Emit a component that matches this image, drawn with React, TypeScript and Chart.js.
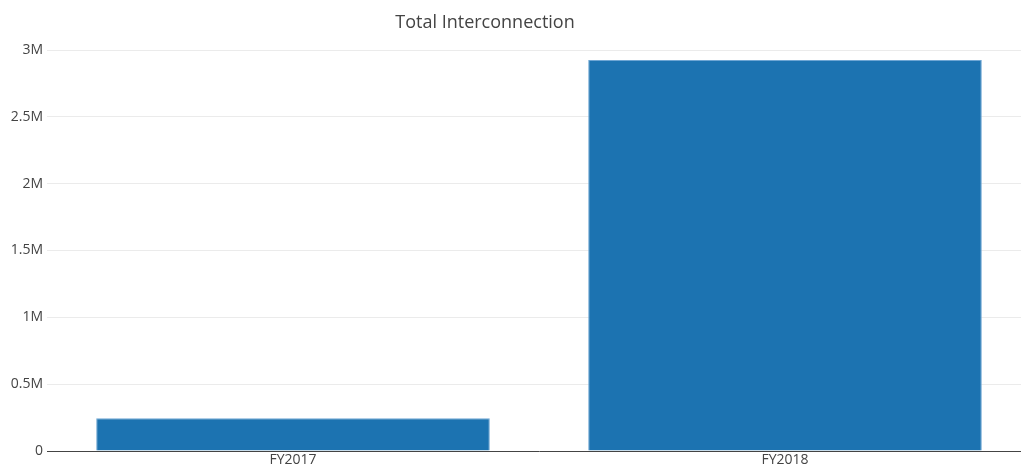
import React, { useEffect, useRef } from "react";
import { Chart, registerables } from "chart.js";

Chart.register(...registerables);

const categories = ["FY2017", "FY2018"];
const values = [245000, 2926000];
const yTicks = [0, 500000, 1000000, 1500000, 2000000, 2500000, 3000000];
const yTickLabels = ["0", "0.5M", "1M", "1.5M", "2M", "2.5M", "3M"];
const titleText = "Total Interconnection";

const FONT = "'Open Sans', sans-serif";

const titlePlugin = {
  id: "customTitle",
  afterDraw(chart: any) {
    const ctx = chart.ctx;
    ctx.save();
    ctx.font = `18px ${FONT}`;
    ctx.fillStyle = "#444";
    ctx.textAlign = "center";
    ctx.textBaseline = "middle";
    ctx.fillText(titleText, 485, 23);
    ctx.restore();
  },
};

export default function App() {
  const ref = useRef<HTMLCanvasElement | null>(null);
  useEffect(() => {
    document.body.style.margin = "0";
    document.body.style.overflow = "hidden";
    const chart = new Chart(ref.current as HTMLCanvasElement, {
      type: "bar",
      data: {
        labels: categories,
        datasets: [
          {
            data: values,
            backgroundColor: "#1c73b1",
            borderColor: "#6ea6d4",
            borderWidth: { top: 1, left: 1, right: 1, bottom: 0 },
            categoryPercentage: 1,
            barPercentage: 0.8,
          },
        ],
      },
      options: {
        animation: false,
        responsive: false,
        maintainAspectRatio: false,
        layout: { padding: { top: 50, right: 0, left: 0, bottom: 0 } },
        plugins: {
          legend: { display: false },
          title: { display: false },
          tooltip: { enabled: false },
        },
        scales: {
          x: {
            grid: { display: false, drawTicks: false },
            border: { display: true, color: "#444", width: 1 },
            ticks: {
              color: "#444",
              font: { family: FONT, size: 14 },
              padding: 1,
              maxRotation: 0,
            },
            afterFit(scale: any) {
              scale.height = 17;
            },
          },
          y: {
            min: 0,
            max: 3000000,
            afterBuildTicks(scale: any) {
              scale.ticks = yTicks.map((v) => ({ value: v }));
            },
            grid: {
              color: (c: any) => (c.tick && c.tick.value === 0 ? "rgba(0,0,0,0)" : "#ebebeb"),
              lineWidth: 1,
              drawTicks: false,
            },
            border: { display: false },
            ticks: {
              color: "#444",
              font: { family: FONT, size: 14 },
              padding: 4,
              callback: (v: any) => {
                const i = yTicks.indexOf(Number(v));
                return i >= 0 ? yTickLabels[i] : "";
              },
            },
            afterFit(scale: any) {
              scale.width = 47;
            },
          },
        },
      },
      plugins: [titlePlugin],
    });
    return () => chart.destroy();
  }, []);
  return (
    <div style={{ position: "absolute", left: 0, top: 0, width: 1031, height: 468 }}>
      <canvas ref={ref} width={1031} height={468} style={{ display: "block" }} />
    </div>
  );
}
